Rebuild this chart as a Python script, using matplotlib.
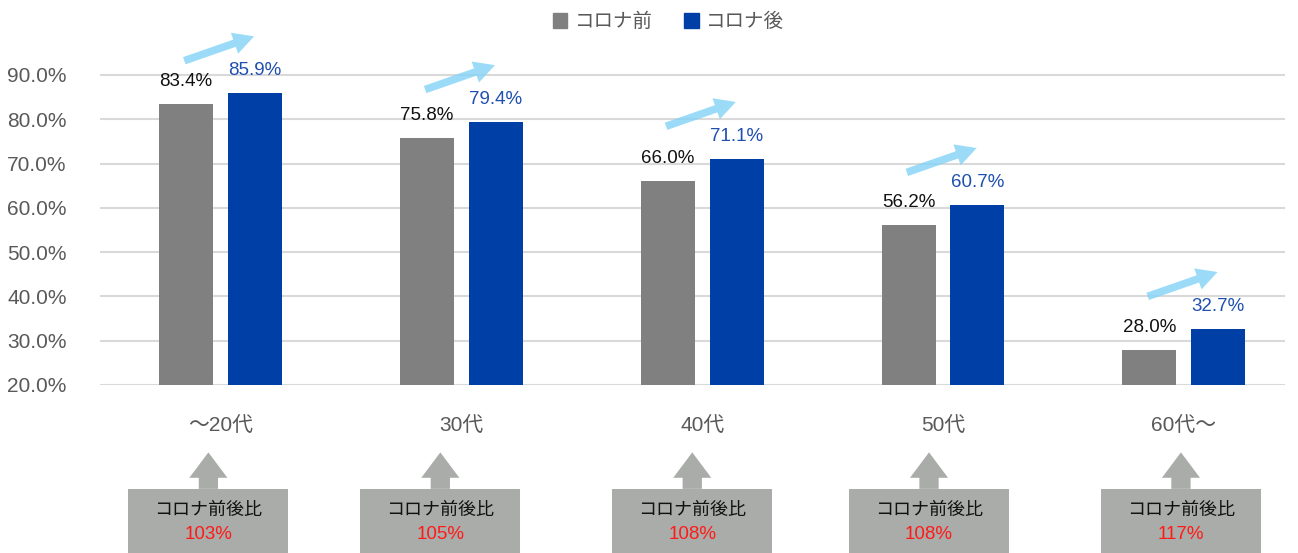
import matplotlib
matplotlib.use("Agg")
import matplotlib.pyplot as plt
import matplotlib.transforms as mtransforms
from matplotlib.patches import Patch, Rectangle, Polygon, FancyArrowPatch
import numpy as np

plt.rcParams['font.family'] = ['Liberation Sans', 'Noto Sans CJK JP', 'DejaVu Sans']

categories = ["～20代", "30代", "40代", "50代", "60代～"]
before = [83.4, 75.8, 66.0, 56.2, 28.0]
after = [85.9, 79.4, 71.1, 60.7, 32.7]
ratio = [103, 105, 108, 108, 117]
series = ["コロナ前", "コロナ後"]
yticks = [20, 30, 40, 50, 60, 70, 80, 90]

gray = "#808080"
blue = "#003fa5"
label_blue = "#1f4fb0"
text_gray = "#595959"
box_gray = "#a9aca8"
arrow_blue = "#84d3f6"

# horizontal nudge of the bottom boxes (in category units), hand placed
box_shift = [-0.05, -0.087, -0.041, -0.058, -0.012]

fig = plt.figure(figsize=(12.98, 5.53), dpi=100)
ax = fig.add_axes([100 / 1298, 168 / 553, 1185 / 1298, (522.4 - 168) / 553])

x = np.arange(len(categories))
off = 0.143
w = 0.224
ax.bar(x - off, before, w, color=gray, zorder=3)
ax.bar(x + off, after, w, color=blue, zorder=3)

for i in range(len(categories)):
    ax.annotate(f"{before[i]:.1f}%", (x[i] - off, before[i]), xytext=(0, 10),
                textcoords="offset points", ha="center", va="bottom",
                fontsize=13.5, color="#111111")
    ax.annotate(f"{after[i]:.1f}%", (x[i] + off, after[i]), xytext=(0, 10),
                textcoords="offset points", ha="center", va="bottom",
                fontsize=13.5, color=label_blue)
    # rising arrow above each pair
    arr = FancyArrowPatch((x[i] - 0.15, after[i] + 7.3), (x[i] + 0.14, after[i] + 12.8),
                          arrowstyle="simple,head_length=15,head_width=16,tail_width=5.5",
                          mutation_scale=1, shrinkA=0, shrinkB=0, color=arrow_blue,
                          alpha=0.8, lw=0, clip_on=False, zorder=4)
    ax.add_patch(arr)

ax.set_ylim(20, 100)
ax.set_xlim(-0.5, 4.42)
ax.set_yticks(yticks)
ax.set_yticklabels([f"{v:.1f}%" for v in yticks])
ax.set_xticks(x)
ax.set_xticklabels(categories)
ax.tick_params(axis="y", length=0, pad=24, labelsize=15, labelcolor=text_gray)
ax.tick_params(axis="x", length=0, pad=22, labelsize=15, labelcolor=text_gray)
ax.grid(axis="y", color="#d9d9d9", lw=1.5, zorder=0)
for s in ax.spines.values():
    s.set_visible(False)

# bottom boxes with up arrows
tr = mtransforms.blended_transform_factory(ax.transData, fig.transFigure)
for i in range(len(categories)):
    cx = x[i] + box_shift[i]
    fig.add_artist(Rectangle((cx - 0.332, 0), 0.664, 0.116, transform=tr,
                             color=box_gray, lw=0))
    pts = [(cx - 0.04, 0.116), (cx - 0.04, 0.136), (cx - 0.079, 0.136),
           (cx, 0.182), (cx + 0.079, 0.136), (cx + 0.04, 0.136), (cx + 0.04, 0.116)]
    fig.add_artist(Polygon(pts, closed=True, transform=tr, color=box_gray, lw=0))
    fig.text(cx, 0.076, "コロナ前後比", transform=tr, ha="center", va="center",
             fontsize=13, color="#111111")
    fig.text(cx, 0.034, f"{ratio[i]}%", transform=tr, ha="center", va="center",
             fontsize=13.5, color="#ff1a1a")

handles = [Patch(color=gray), Patch(color=blue)]
fig.legend(handles, series, loc="center", bbox_to_anchor=(0.515, 0.96), ncol=2,
           frameon=False, fontsize=14, handlelength=0.75, handleheight=0.75,
           handletextpad=0.4, columnspacing=1.6, labelcolor=text_gray)

fig.savefig("out.png", dpi=100)
